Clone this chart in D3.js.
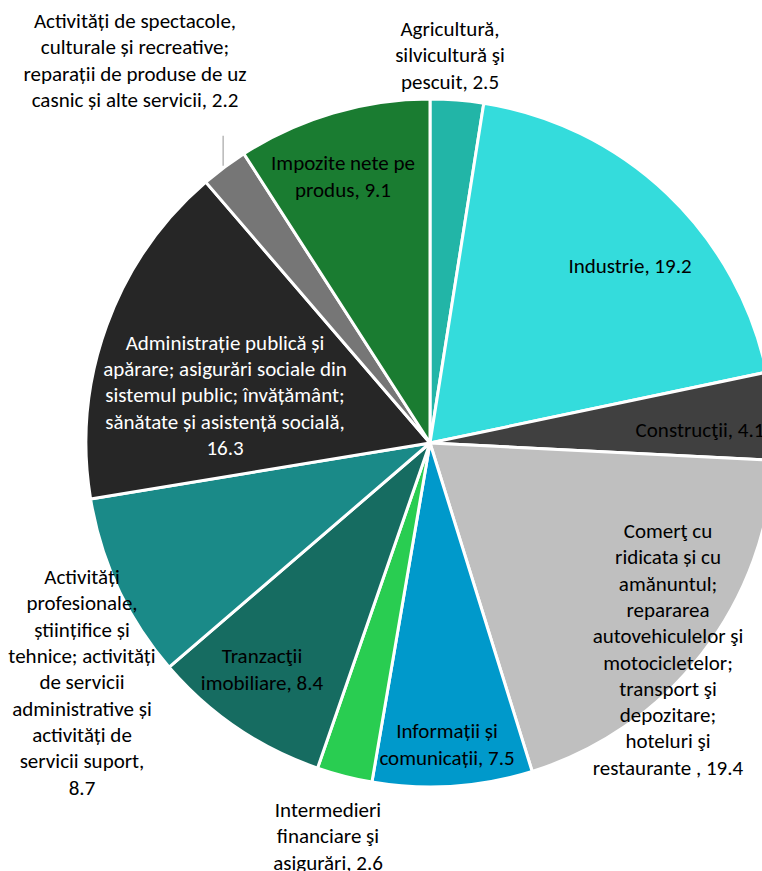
<!DOCTYPE html>
<html>
<head>
<meta charset="utf-8">
<script src="https://cdn.jsdelivr.net/npm/d3@7"></script>
<style>
  html, body { margin: 0; padding: 0; background: #fff; overflow: hidden; }
  svg { display: block; }
  text { font-family: Carlito, Lato, "Noto Sans", sans-serif; }
</style>
</head>
<body>
<svg id="chart" width="762" height="871"></svg>
<script>
// Sectors (share of GDP, %)
const categories = [
  ["Agricultură,", "silvicultură şi", "pescuit, 2.5"],
  ["Industrie, 19.2"],
  ["Construcţii, 4.1"],
  ["Comerţ cu", "ridicata și cu", "amănuntul;", "repararea", "autovehiculelor şi", "motocicletelor;", "transport şi", "depozitare;", "hoteluri şi", "restaurante , 19.4"],
  ["Informații și", "comunicații, 7.5"],
  ["Intermedieri", "financiare şi", "asigurări, 2.6"],
  ["Tranzacţii", "imobiliare, 8.4"],
  ["Activități", "profesionale,", "științifice și", "tehnice; activități", "de servicii", "administrative și", "activități de", "servicii suport,", "8.7"],
  ["Administrație publică și", "apărare; asigurări sociale din", "sistemul public; învățământ;", "sănătate și asistență socială,", "16.3"],
  ["Activități de spectacole,", "culturale și recreative;", "reparații de produse de uz", "casnic și alte servicii, 2.2"],
  ["Impozite nete pe", "produs, 9.1"]
];
const values = [2.5, 19.2, 4.1, 19.4, 7.5, 2.6, 8.4, 8.7, 16.3, 2.2, 9.1];
const colors = ["#22b5a7", "#34dcdc", "#404040", "#bfbfbf", "#0099cb", "#29cd51",
                "#166c61", "#1a8a88", "#262626", "#767676", "#1a7c31"];
const textColors = ["#000", "#000", "#000", "#000", "#000", "#000",
                    "#000", "#000", "#fff", "#000", "#000"];

// Label block centres, as offsets from the pie centre
const labelOffsets = [
  [20, -388], [200, -177], [270, -13], [238, 206], [17, 301], [-102, 393],
  [-168, 226], [-348, 239], [-205, -48], [-295, -383], [-87, -267]
];

const cx = 430, cy = 443, radius = 344, lineH = 26.3;

const svg = d3.select("#chart");
const g = svg.append("g").attr("transform", `translate(${cx},${cy})`);

const data = values.map((v, i) => ({ value: v, lines: categories[i], i }));

const pie = d3.pie().value(d => d.value).sort(null);
const arc = d3.arc().innerRadius(0).outerRadius(radius);
const arcs = pie(data);

g.selectAll("path.slice")
  .data(arcs)
  .join("path")
  .attr("class", "slice")
  .attr("d", arc)
  .attr("fill", d => colors[d.data.i])
  .attr("stroke", "#fff")
  .attr("stroke-width", 3)
  .attr("stroke-linejoin", "round");

// Leader line for the small "spectacole" slice
const spec = arcs[9];
const mid = (spec.startAngle + spec.endAngle) / 2;
const lx = Math.sin(mid) * (radius + 2), ly = -Math.cos(mid) * (radius + 2);
g.append("line")
  .attr("x1", lx).attr("y1", ly)
  .attr("x2", lx).attr("y2", ly - 30)
  .attr("stroke", "#a6a6a6").attr("stroke-width", 1.2);

// Labels
const labels = g.selectAll("text.lbl")
  .data(arcs)
  .join("text")
  .attr("class", "lbl")
  .attr("text-anchor", "middle")
  .attr("font-size", 21)
  .attr("fill", d => textColors[d.data.i]);

labels.each(function(d) {
  const [ox, oy] = labelOffsets[d.data.i];
  const n = d.data.lines.length;
  const t = d3.select(this);
  d.data.lines.forEach((ln, k) => {
    t.append("tspan")
      .attr("x", ox)
      .attr("y", oy + (k - (n - 1) / 2) * lineH)
      .attr("dy", "0.35em")
      .text(ln);
  });
});
</script>
</body>
</html>
